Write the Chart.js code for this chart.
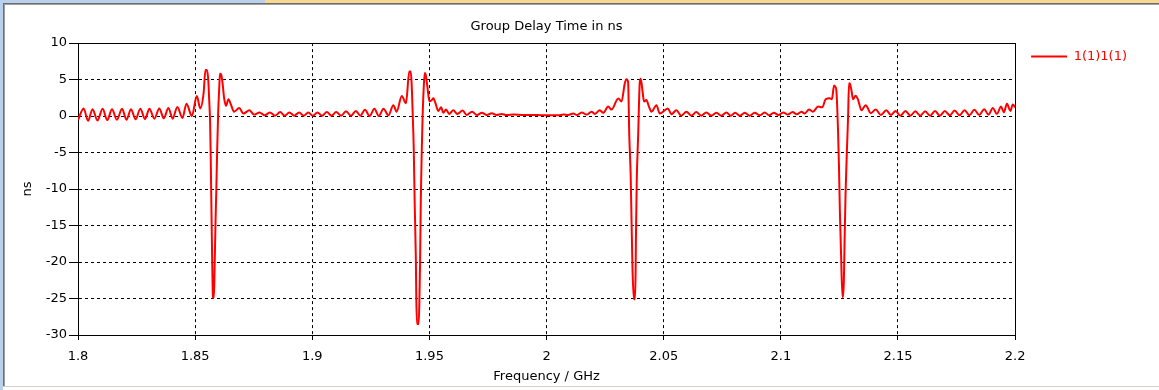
<!DOCTYPE html>
<html>
<head>
<meta charset="utf-8">
<script src="https://cdn.jsdelivr.net/npm/chart.js@4.4.0/dist/chart.umd.min.js"></script>
<style>
  html, body { margin: 0; padding: 0; background: #fff; }
  #wrap { position: relative; width: 1159px; height: 390px; overflow: hidden; }
  #myChart { position: absolute; left: 0; top: 0; }
  .edge { position: absolute; }
</style>
</head>
<body>
<div id="wrap">
  <canvas id="myChart" width="1159" height="390"></canvas>
  <div class="edge" style="left:0;top:0;width:265px;height:3px;background:#b9d1ec"></div>
  <div class="edge" style="left:265px;top:0;right:0;height:3px;background:#f7d98f"></div>
  <div class="edge" style="left:0;top:0;width:3px;height:390px;background:#b9d1ec"></div>
  <div class="edge" style="left:3px;top:3px;right:0;height:1px;background:#6d6d6d"></div>
  <div class="edge" style="left:3px;top:4px;right:0;height:1px;background:#a0a0a0"></div>
  <div class="edge" style="left:3px;top:3px;width:1px;height:384px;background:#6d6d6d"></div>
  <div class="edge" style="left:4px;top:4px;width:1px;height:383px;background:#a0a0a0"></div>
  <div class="edge" style="left:3px;top:386px;right:0;height:1px;background:#d4d0c8"></div>
</div>
<script>
// group delay curve
const freqGHz = [
  1.8000, 1.8024, 1.8043, 1.8062, 1.8083, 1.8105, 1.8125, 1.8145, 1.8166, 1.8188,
  1.8207, 1.8226, 1.8246, 1.8266, 1.8286, 1.8305, 1.8326, 1.8347, 1.8366, 1.8386,
  1.8404, 1.8424, 1.8446, 1.8463, 1.8486, 1.8507, 1.8522, 1.8536, 1.8544, 1.8550,
  1.8556, 1.8560, 1.8564, 1.8567, 1.8570, 1.8573, 1.8576, 1.8580, 1.8583, 1.8587,
  1.8590, 1.8594, 1.8598, 1.8603, 1.8606, 1.8611, 1.8617, 1.8624, 1.8632, 1.8642,
  1.8653, 1.8666, 1.8688, 1.8706, 1.8732, 1.8751, 1.8775, 1.8797, 1.8819, 1.8841,
  1.8863, 1.8882, 1.8902, 1.8923, 1.8944, 1.8963, 1.8983, 1.9002, 1.9022, 1.9042,
  1.9062, 1.9082, 1.9102, 1.9123, 1.9144, 1.9165, 1.9186, 1.9205, 1.9225, 1.9245,
  1.9265, 1.9284, 1.9304, 1.9325, 1.9346, 1.9360, 1.9382, 1.9400, 1.9414, 1.9420,
  1.9424, 1.9429, 1.9433, 1.9437, 1.9442, 1.9444, 1.9447, 1.9454, 1.9457, 1.9460,
  1.9463, 1.9467, 1.9471, 1.9476, 1.9480, 1.9484, 1.9491, 1.9500, 1.9510, 1.9517,
  1.9527, 1.9538, 1.9550, 1.9559, 1.9571, 1.9584, 1.9602, 1.9619, 1.9642, 1.9659,
  1.9682, 1.9703, 1.9724, 1.9745, 1.9766, 1.9787, 1.9808, 1.9830, 1.9860, 1.9900,
  1.9940, 1.9980, 2.0020, 2.0050, 2.0072, 2.0092, 2.0114, 2.0130, 2.0150, 2.0171,
  2.0192, 2.0206, 2.0227, 2.0242, 2.0263, 2.0277, 2.0306, 2.0320, 2.0334, 2.0341,
  2.0348, 2.0353, 2.0359, 2.0363, 2.0367, 2.0373, 2.0377, 2.0380, 2.0382, 2.0385,
  2.0391, 2.0398, 2.0402, 2.0410, 2.0416, 2.0426, 2.0437, 2.0448, 2.0469, 2.0483,
  2.0518, 2.0533, 2.0554, 2.0575, 2.0597, 2.0618, 2.0639, 2.0660, 2.0682, 2.0703,
  2.0725, 2.0746, 2.0768, 2.0786, 2.0805, 2.0825, 2.0846, 2.0867, 2.0888, 2.0910,
  2.0931, 2.0950, 2.0970, 2.0990, 2.1010, 2.1030, 2.1050, 2.1068, 2.1088, 2.1102,
  2.1120, 2.1137, 2.1159, 2.1177, 2.1191, 2.1209, 2.1218, 2.1227, 2.1233, 2.1237,
  2.1244, 2.1248, 2.1252, 2.1257, 2.1263, 2.1265, 2.1269, 2.1272, 2.1276, 2.1282,
  2.1287, 2.1291, 2.1295, 2.1301, 2.1308, 2.1319, 2.1329, 2.1344, 2.1362, 2.1384,
  2.1405, 2.1427, 2.1450, 2.1470, 2.1490, 2.1510, 2.1532, 2.1553, 2.1574, 2.1595,
  2.1616, 2.1637, 2.1658, 2.1679, 2.1700, 2.1721, 2.1742, 2.1763, 2.1784, 2.1805,
  2.1826, 2.1847, 2.1868, 2.1886, 2.1905, 2.1922, 2.1940, 2.1952, 2.1965, 2.1980,
  2.1990, 2.2000
];
const delayNs = [
  -0.55, 1.05, -0.65, 0.95, -0.6, 1.0, -0.55, 0.95, -0.5, 1.0,
  -0.5, 0.95, -0.45, 1.0, -0.4, 1.0, -0.35, 1.05, -0.3, 1.1,
  -0.35, 1.25, -0.25, 1.7, 0.0, 2.75, 1.05, 3.1, 6.3, 6.3,
  4.95, 2.2, -1.0, -6.7, -13.8, -20.3, -24.8, -24.9, -20.9, -14.5,
  -10.6, -4.7, 0.15, 4.0, 5.8, 5.7, 4.5, 2.4, 1.4, 2.3,
  1.55, 0.6, 1.1, 0.35, 0.8, 0.2, 0.5, 0.1, 0.5, 0.05,
  0.55, 0.05, 0.5, 0.05, 0.5, 0.05, 0.5, 0.05, 0.5, 0.05,
  0.55, 0.05, 0.55, 0.05, 0.65, 0.05, 0.7, 0.05, 0.85, 0.0,
  1.0, 0.0, 1.0, 0.1, 1.5, 0.6, 2.75, 1.75, 6.1, 6.1,
  4.5, -0.1, -4.4, -11.8, -19.4, -25.0, -28.5, -28.5, -25.7, -20.3,
  -12.0, -5.1, 0.0, 4.1, 5.9, 5.7, 4.1, 2.0, 2.2, 2.45,
  1.65, 0.7, 1.2, 0.45, 0.9, 0.3, 0.8, 0.3, 0.75, 0.15,
  0.6, 0.15, 0.45, 0.15, 0.4, 0.15, 0.3, 0.15, 0.2, 0.15,
  0.15, 0.12, 0.13, 0.12, 0.2, 0.15, 0.35, 0.15, 0.5, 0.2,
  0.6, 0.3, 0.8, 0.45, 1.3, 0.9, 2.4, 2.0, 4.5, 5.05,
  4.7, -2.6, -8.1, -14.8, -21.2, -25.1, -25.1, -21.6, -15.2, -8.8,
  -2.6, 4.7, 5.1, 3.3, 2.0, 2.2, 1.3, 0.6, 1.5, 0.35,
  1.05, 0.25, 0.8, 0.05, 0.6, 0.05, 0.55, 0.05, 0.5, 0.05,
  0.45, 0.05, 0.5, 0.05, 0.45, 0.05, 0.45, 0.05, 0.45, 0.1,
  0.5, 0.1, 0.45, 0.15, 0.5, 0.2, 0.55, 0.25, 0.6, 0.35,
  0.9, 0.6, 1.3, 1.2, 2.3, 2.45, 2.3, 4.2, 4.0, 3.5,
  -1.9, -6.7, -13.1, -18.9, -24.8, -24.8, -22.6, -17.1, -10.9, -4.7,
  -0.1, 4.5, 4.4, 3.6, 2.3, 2.8, 2.3, 0.8, 1.5, 0.4,
  0.9, 0.15, 0.8, 0.15, 0.7, 0.05, 0.7, 0.05, 0.65, 0.05,
  0.65, 0.05, 0.7, 0.05, 0.7, 0.1, 0.75, 0.1, 0.8, 0.1,
  0.85, 0.15, 0.95, 0.2, 1.1, 0.3, 1.3, 0.5, 1.7, 0.7,
  1.6, 1.2
];

const xTicks = [1.8, 1.85, 1.9, 1.95, 2, 2.05, 2.1, 2.15, 2.2];
const xTickLabels = ['1.8', '1.85', '1.9', '1.95', '2', '2.05', '2.1', '2.15', '2.2'];
const yTicks = [-30, -25, -20, -15, -10, -5, 0, 5, 10];
const yTickLabels = ['-30', '-25', '-20', '-15', '-10', '-5', '0', '5', '10'];
const seriesName = '1(1)1(1)';

Chart.defaults.font.family = "'DejaVu Sans', sans-serif";
Chart.defaults.font.size = 13;
Chart.defaults.color = '#000';

const points = freqGHz.map((f, i) => ({ x: f, y: delayNs[i] }));

const ctx = document.getElementById('myChart');
new Chart(ctx, {
  type: 'line',
  data: {
    datasets: [{
      label: seriesName,
      data: points,
      borderColor: '#ff0000',
      backgroundColor: '#ff0000',
      borderWidth: 2,
      pointRadius: 0,
      cubicInterpolationMode: 'monotone',
      fill: false
    }]
  },
  options: {
    responsive: false,
    animation: false,
    devicePixelRatio: 1,
    layout: { padding: { left: 0, right: 22, top: 0, bottom: 0 } },
    plugins: {
      title: {
        display: true,
        text: 'Group Delay Time in ns',
        fullSize: false,
        color: '#000',
        font: { size: 13, weight: 'normal' },
        padding: { top: 19, bottom: 8.5 }
      },
      legend: {
        position: 'right',
        align: 'start',
        fullSize: false,
        labels: {
          boxWidth: 36,
          boxHeight: 2,
          padding: 7,
          color: '#ff0000',
          font: { size: 13 },
          generateLabels: (chart) => {
            const items = Chart.defaults.plugins.legend.labels.generateLabels(chart);
            items.forEach(it => { it.lineWidth = 0; it.fillStyle = '#ff0000'; });
            return items;
          }
        }
      },
      tooltip: { enabled: false }
    },
    scales: {
      x: {
        type: 'linear',
        position: 'bottom',
        min: 1.8,
        max: 2.2,
        afterBuildTicks: s => { s.ticks = xTicks.map(v => ({ value: v })); },
        afterFit: s => { s.height = 55; },
        ticks: {
          callback: v => xTickLabels[xTicks.indexOf(v)],
          padding: 9,
          maxRotation: 0,
          autoSkip: false
        },
        grid: { color: '#000', lineWidth: 1, drawTicks: true, tickLength: 5, tickColor: '#000', tickBorderDash: [] },
        border: { display: true, color: '#000', dash: [3, 3] },
        title: { display: true, text: 'Frequency / GHz', padding: { top: 0, bottom: 6 } }
      },
      y: {
        type: 'linear',
        position: 'left',
        min: -30,
        max: 10,
        afterBuildTicks: s => { s.ticks = yTicks.map(v => ({ value: v })); },
        afterFit: s => { s.width = 78; },
        ticks: {
          callback: v => yTickLabels[yTicks.indexOf(v)],
          padding: 2,
          autoSkip: false
        },
        grid: { color: '#000', lineWidth: 1, drawTicks: true, tickLength: 9, tickColor: '#000', tickBorderDash: [] },
        border: { display: true, color: '#000', dash: [3, 3] },
        title: { display: true, text: 'ns', padding: { top: 20, bottom: 0 } }
      },
      y2: {
        type: 'linear',
        position: 'right',
        grid: { display: false },
        ticks: { display: false },
        border: { display: true, color: '#000' },
        afterFit: s => { s.width = 9; }
      },
      x2: {
        type: 'linear',
        position: 'top',
        grid: { display: false },
        ticks: { display: false },
        border: { display: true, color: '#000' },
        afterFit: s => { s.height = 0; }
      }
    }
  }
});
</script>
</body>
</html>
